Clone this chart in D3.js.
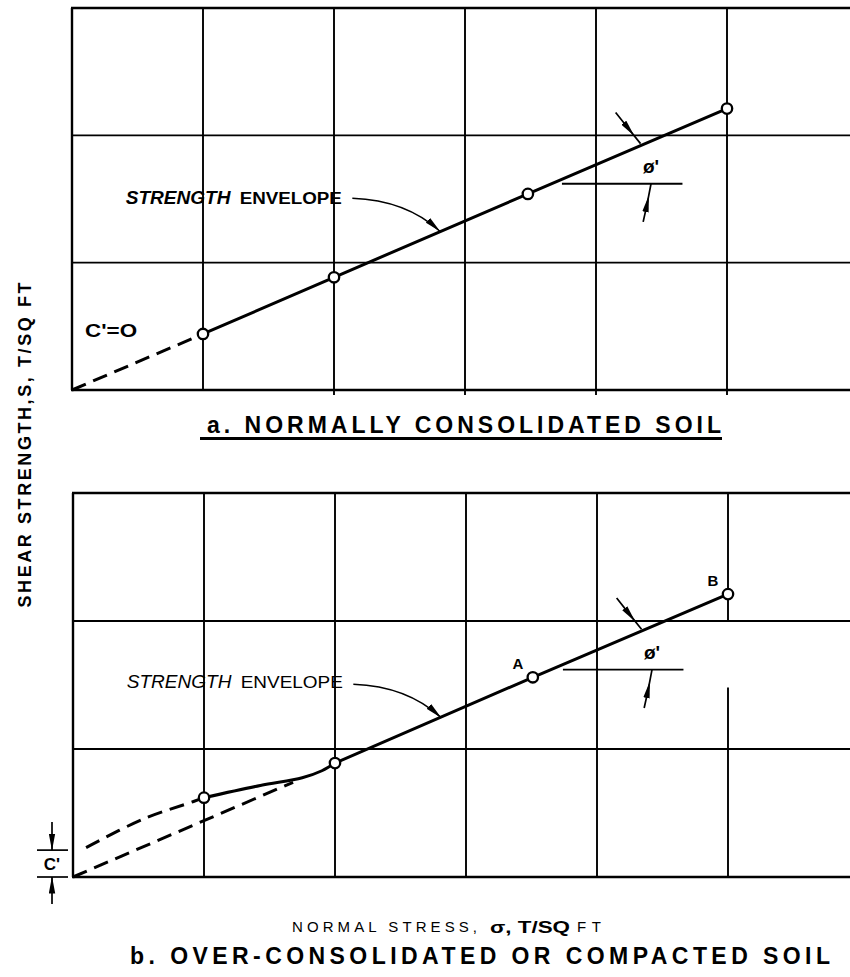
<!DOCTYPE html>
<html><head><meta charset="utf-8">
<script src="https://cdn.jsdelivr.net/npm/d3@7"></script>
<style>body{margin:0;background:#fff}svg{display:block}</style>
</head><body>
<svg id="c" width="850" height="977"></svg>
<script>
// ---- data (grid units) ----
const xTicks = [0, 1, 2, 3, 4, 5, 6];
const yTicks = [0, 1, 2, 3];
// panel a: normally consolidated
const aPointsX = [1, 2, 3.48, 5];
const aPointsY = [0.44, 0.885, 1.54, 2.21];
const aDashX = [0, 1];
const aDashY = [0, 0.44];
// panel b: over-consolidated
const bPointsX = [1, 2, 3.51, 5];
const bPointsY = [0.62, 0.89, 1.56, 2.21];
const bPointLabels = ["", "", "A", "B"];
const bStraightDashX = [0, 1.68];
const bStraightDashY = [0, 0.74];
const bCurveDashX = [0.1, 0.53, 0.92, 1];
const bCurveDashY = [0.23, 0.45, 0.59, 0.62];
const bCurveSolidX = [1, 1.43, 1.75, 1.9, 2];
const bCurveSolidY = [0.62, 0.715, 0.775, 0.83, 0.89];
const bEnvX = [2, 3.51, 5];
const bEnvY = [0.89, 1.56, 2.21];

const zip = (xs, ys) => xs.map((v, i) => [v, ys[i]]);
const svg = d3.select("#c");
const FONT = "'Liberation Sans', Arial, sans-serif";

// arrowhead markers
const defs = svg.append("defs");
defs.append("marker").attr("id", "ah").attr("viewBox", "0 0 17 7")
  .attr("refX", 16.5).attr("refY", 3.5).attr("markerWidth", 17).attr("markerHeight", 7)
  .attr("markerUnits", "userSpaceOnUse").attr("orient", "auto")
  .append("path").attr("d", "M0,0.3 L17,3.5 L0,6.7 Z").attr("fill", "#000");
defs.append("marker").attr("id", "am").attr("viewBox", "0 0 17 7")
  .attr("refX", 8).attr("refY", 3.5).attr("markerWidth", 17).attr("markerHeight", 7)
  .attr("markerUnits", "userSpaceOnUse").attr("orient", "auto")
  .append("path").attr("d", "M0,0.3 L17,3.5 L0,6.7 Z").attr("fill", "#000");

function drawPanel(cfg) {
  const x = d3.scaleLinear().domain([0, 6]).range(cfg.xr);
  const y = d3.scaleLinear().domain([0, 3]).range(cfg.yr);
  const g = svg.append("g");
  const line = d3.line().x(d => x(d[0])).y(d => y(d[1]));
  xTicks.forEach(t => {
    const segs = (cfg.vSegs && cfg.vSegs[t]) || [[0, 3]];
    segs.forEach(s => {
      g.append("line").attr("x1", x(t)).attr("x2", x(t))
        .attr("y1", y(s[1])).attr("y2", y(s[0]) + (t > 1 && s[0] === 0 ? cfg.tick : 0))
        .attr("stroke", "#000").attr("stroke-width", t === 0 ? 2.4 : 1.9);
    });
  });
  yTicks.forEach(t => {
    g.append("line").attr("x1", x(0) - 1).attr("x2", x(6))
      .attr("y1", y(t)).attr("y2", y(t))
      .attr("stroke", "#000").attr("stroke-width", (t === 0 || t === 3) ? 2.6 : 1.9);
  });
  return { x, y, g, line };
}

function phiAnnot(p) {
  const { x, y, g } = p;
  g.append("path").attr("d", d3.line()([[x(4.15), y(2.18)], [x(4.25), y(2.05)], [x(4.34), y(1.935)]]))
    .attr("fill", "none").attr("stroke", "#000").attr("stroke-width", 1.7).attr("marker-mid", "url(#am)");
  g.append("line").attr("x1", x(3.74)).attr("x2", x(4.66)).attr("y1", y(1.62)).attr("y2", y(1.62))
    .attr("stroke", "#000").attr("stroke-width", 1.9);
  g.append("path").attr("d", d3.line()([[x(4.36), y(1.32)], [x(4.39), y(1.46)], [x(4.42), y(1.62)]]))
    .attr("fill", "none").attr("stroke", "#000").attr("stroke-width", 1.7).attr("marker-mid", "url(#am)");
  g.append("text").attr("x", x(4.42)).attr("y", y(1.76) + 7).attr("text-anchor", "middle")
    .attr("font-family", FONT).attr("font-weight", "bold").attr("font-size", 19).text("ø'");
}

function envLabel(p, heavy, baseY) {
  const { x, y, g } = p;
  g.append("text").attr("x", x(0.41)).attr("y", y(baseY))
    .attr("font-family", FONT).attr("font-weight", heavy ? "bold" : "normal").attr("font-style", "italic")
    .attr("font-size", 18).attr("textLength", x(1.21) - x(0.41)).attr("lengthAdjust", "spacingAndGlyphs")
    .text("STRENGTH");
  g.append("text").attr("x", x(1.28)).attr("y", y(baseY))
    .attr("font-family", FONT).attr("font-weight", heavy ? "bold" : "normal")
    .attr("font-size", 16).attr("textLength", x(2.06) - x(1.28)).attr("lengthAdjust", "spacingAndGlyphs")
    .text("ENVELOPE");
  const path = d3.path();
  path.moveTo(x(2.14), y(1.505));
  path.quadraticCurveTo(x(2.55), y(1.49), x(2.81), y(1.245));
  g.append("path").attr("d", path.toString()).attr("fill", "none").attr("stroke", "#000")
    .attr("stroke-width", 1.5).attr("marker-end", "url(#ah)");
}

// ---------- Panel a ----------
const A = drawPanel({ xr: [72, 858], yr: [390, 8], tick: 5 });
A.g.append("path").attr("d", A.line(zip(aDashX, aDashY))).attr("fill", "none")
  .attr("stroke", "#000").attr("stroke-width", 3).attr("stroke-dasharray", "15,8");
A.g.append("path").attr("d", A.line(zip(aPointsX, aPointsY))).attr("fill", "none")
  .attr("stroke", "#000").attr("stroke-width", 3);
A.g.selectAll("circle").data(zip(aPointsX, aPointsY)).join("circle")
  .attr("cx", d => A.x(d[0])).attr("cy", d => A.y(d[1])).attr("r", 5.2)
  .attr("fill", "#fff").attr("stroke", "#000").attr("stroke-width", 2.3);
envLabel(A, true, 1.46);
phiAnnot(A);
A.g.append("text").attr("x", A.x(0.1)).attr("y", A.y(0.44) + 3)
  .attr("font-family", FONT).attr("font-weight", "bold").attr("font-size", 18)
  .attr("textLength", 52).attr("lengthAdjust", "spacingAndGlyphs").text("C'=O");

// title a
svg.append("text").attr("x", 207).attr("y", 433).attr("font-family", FONT).attr("font-weight", "bold")
  .attr("font-size", 23).attr("textLength", 514).attr("lengthAdjust", "spacing")
  .text("a. NORMALLY CONSOLIDATED SOIL");
svg.append("rect").attr("x", 200).attr("y", 437).attr("width", 522).attr("height", 3).attr("fill", "#000");

// ---------- Panel b ----------
const B = drawPanel({ xr: [73, 859], yr: [877, 493], tick: 0, vSegs: { 5: [[0, 1.48], [2, 3]] } });
B.g.append("path").attr("d", B.line(zip(bStraightDashX, bStraightDashY))).attr("fill", "none")
  .attr("stroke", "#000").attr("stroke-width", 3).attr("stroke-dasharray", "15,8");
B.g.append("path").attr("d", B.line.curve(d3.curveCatmullRom)(zip(bCurveDashX, bCurveDashY))).attr("fill", "none")
  .attr("stroke", "#000").attr("stroke-width", 3).attr("stroke-dasharray", "15,8");
B.g.append("path").attr("d", B.line.curve(d3.curveCatmullRom)(zip(bCurveSolidX, bCurveSolidY))).attr("fill", "none")
  .attr("stroke", "#000").attr("stroke-width", 3);
B.line.curve(d3.curveLinear);
B.g.append("path").attr("d", B.line(zip(bEnvX, bEnvY))).attr("fill", "none")
  .attr("stroke", "#000").attr("stroke-width", 3);
B.g.selectAll("circle").data(zip(bPointsX, bPointsY)).join("circle")
  .attr("cx", d => B.x(d[0])).attr("cy", d => B.y(d[1])).attr("r", 5.2)
  .attr("fill", "#fff").attr("stroke", "#000").attr("stroke-width", 2.3);
B.g.selectAll("text.pl").data(bPointLabels.map((l, i) => ({ l, x: bPointsX[i], y: bPointsY[i] })).filter(d => d.l))
  .join("text").attr("class", "pl")
  .attr("x", d => B.x(d.x) - 15).attr("y", d => B.y(d.y) - 8)
  .attr("text-anchor", "middle").attr("font-family", FONT).attr("font-weight", "bold").attr("font-size", 15)
  .text(d => d.l);
envLabel(B, false, 1.48);
phiAnnot(B);

// c' dimension
const cTop = B.y(0.21), cBot = B.y(0);
svg.append("line").attr("x1", 37).attr("x2", 68).attr("y1", cTop).attr("y2", cTop).attr("stroke", "#000").attr("stroke-width", 1.7);
svg.append("line").attr("x1", 37).attr("x2", 68).attr("y1", cBot).attr("y2", cBot).attr("stroke", "#000").attr("stroke-width", 1.7);
svg.append("line").attr("x1", 52).attr("x2", 52).attr("y1", cTop - 28).attr("y2", cTop)
  .attr("stroke", "#000").attr("stroke-width", 1.7).attr("marker-end", "url(#ah)");
svg.append("line").attr("x1", 52).attr("x2", 52).attr("y1", cBot + 27).attr("y2", cBot)
  .attr("stroke", "#000").attr("stroke-width", 1.7).attr("marker-end", "url(#ah)");
svg.append("text").attr("x", 52).attr("y", (cTop + cBot) / 2 + 6).attr("text-anchor", "middle")
  .attr("font-family", FONT).attr("font-weight", "bold").attr("font-size", 17).text("C'");

// axis labels
svg.append("text").attr("transform", "translate(31,445) rotate(-90)").attr("text-anchor", "middle")
  .attr("font-family", FONT).attr("font-weight", "bold").attr("font-size", 18)
  .attr("textLength", 325).attr("lengthAdjust", "spacing").text("SHEAR STRENGTH,S, T/SQ FT");

svg.append("text").attr("x", 292).attr("y", 932).attr("font-family", FONT).attr("font-size", 15)
  .attr("textLength", 185).attr("lengthAdjust", "spacing").text("NORMAL STRESS,");
svg.append("text").attr("x", 490).attr("y", 933).attr("font-family", FONT).attr("font-size", 17).attr("font-weight", "bold")
  .attr("textLength", 80).attr("lengthAdjust", "spacingAndGlyphs").text("σ, T/SQ");
svg.append("text").attr("x", 577).attr("y", 932).attr("font-family", FONT).attr("font-size", 15)
  .attr("textLength", 24).attr("lengthAdjust", "spacing").text("FT");

svg.append("text").attr("x", 130).attr("y", 964).attr("font-family", FONT).attr("font-weight", "bold")
  .attr("font-size", 23).attr("textLength", 700).attr("lengthAdjust", "spacing")
  .text("b. OVER-CONSOLIDATED OR COMPACTED SOIL");
</script>
</body></html>
